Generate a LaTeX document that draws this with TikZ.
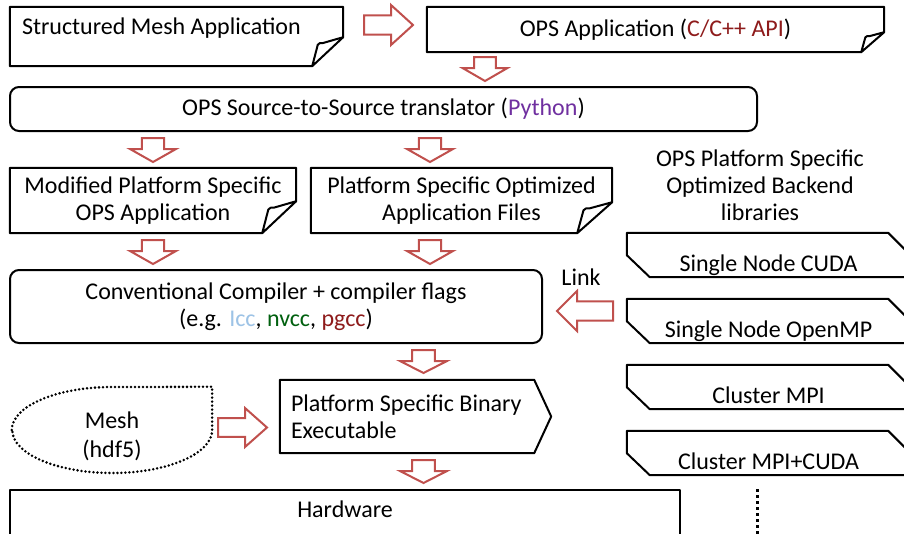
\documentclass[tikz,border=0pt]{standalone}
\usepackage{fontspec}
\setmainfont{Carlito}
\usepackage{tikz}
\usetikzlibrary{calc}
\definecolor{arrowred}{HTML}{C0504D}
\definecolor{apired}{HTML}{8E1B1B}
\definecolor{pypurple}{HTML}{7030A0}
\definecolor{iccblue}{HTML}{9DC3E6}
\definecolor{nvgreen}{HTML}{00600F}
\tikzset{
	% Box styles: frame drawn by a macro, rounded frame, library box
	frame node/.style={rectangle,inner sep=0,align=center},
	round node/.style={rectangle,draw,line width=2pt,rounded corners=9pt,inner sep=0,align=center},
	lib node/.style={rectangle,inner sep=0,minimum width=283pt,minimum height=44pt,text height=33pt,text depth=0pt},
	box line/.style={line width=2pt,line join=round},
	red arrow/.style={draw=arrowred,line width=2pt,line join=miter}
}

\begin{document}
\begin{tikzpicture}[x=1pt,y=-1pt,font=\fontsize{24}{27}\selectfont]
				\fill[white] (0,0) rectangle (904,533);
				\useasboundingbox (0,0) rectangle (904,533);
				\clip (0,0) rectangle (904,533);
				% macro for folded paper boxes: name, fold width, fold height
				\newcommand{\docshape}[3]{\draw[box line] let \p1=(#1.north west),\p2=(#1.south east) in (\x1,\y1) -- (\x2,\y1) -- (\x2,\y2+#3pt) -- (\x2-#2pt,\y2) -- (\x1,\y2) -- cycle (\x2-#2pt,\y2) -- (\x2-0.82*#2pt,\y2+0.74*#3pt) to[out=70,in=180] (\x2-0.65*#2pt,\y2+0.8*#3pt) -- (\x2,\y2+#3pt);}
				% macro for snipped library boxes
				\newcommand{\libshape}[1]{\draw[box line] let \p1=(#1.north west),\p2=(#1.south east) in (\x1,\y1) -- (\x2-22pt,\y1) -- (\x2,\y1-22pt) -- (\x2,\y2) -- (\x1+23pt,\y2) -- (\x1,\y2+22pt) -- cycle;}
				% macro for block arrows: centre, direction, length, head width, head length
				\newcommand{\blockarrow}[5]{\draw[red arrow,shift={(#1)},rotate=#2] ({-#3/2},{-0.24*#4}) -- ({#3/2-#5},{-0.24*#4}) -- ({#3/2-#5},{-#4/2}) -- ({#3/2},0) -- ({#3/2-#5},{#4/2}) -- ({#3/2-#5},{0.24*#4}) -- ({-#3/2},{0.24*#4}) -- cycle;}
				
				% first row
				\node[frame node,minimum width=333pt,minimum height=59pt,text width=309pt,align=flush left,text height=10pt,text depth=14pt](0-1) at (176.5,36.5){Structured Mesh Application};
				\node[frame node,minimum width=457pt,minimum height=45pt](0-2) at (655.5,29.5){OPS Application (\textcolor{apired}{C/C++ API})};
				\docshape{0-1}{31}{29}
				\docshape{0-2}{23}{20}
				
				% translator
				\node[round node,minimum width=747pt,minimum height=44pt](1) at (383.5,109){OPS Source-to-Source translator (\textcolor{pypurple}{Python})};
				
				% generated files
				\node[frame node,minimum width=286pt,minimum height=65pt](2-1) at (153,200.5){Modified Platform Specific\\OPS Application};
				\node[frame node,minimum width=301pt,minimum height=65pt](2-2) at (461.5,200.5){Platform Specific Optimized\\Application Files};
				\docshape{2-1}{34}{32}
				\docshape{2-2}{35}{31}
				
				% compiler
				\node[round node,minimum width=532pt,minimum height=73pt](3) at (276,306.5){Conventional Compiler + compiler flags\\(e.g. \textcolor{iccblue}{Icc}, \textcolor{nvgreen}{nvcc}, \textcolor{apired}{pgcc})};
				\node(link) at (581,277){Link};
				
				% backend libraries
				\node[align=center](lib) at (760,185){OPS Platform Specific\\Optimized Backend\\libraries};
				\node[lib node](L-1) at (768.5,255){Single Node CUDA};
				\node[lib node](L-2) at (768.5,321){Single Node OpenMP};
				\node[lib node](L-3) at (768.5,387){Cluster MPI};
				\node[lib node](L-4) at (768.5,453){Cluster MPI+CUDA};
				\foreach \i in {1,...,4}{\libshape{L-\i}}
				\coordinate(dots) at (757,489);
				\draw[line width=3pt,dash pattern=on 3pt off 3pt] (dots) -- ++(0,50);
				
				% binary and mesh
				\node[frame node,minimum width=271pt,minimum height=73pt,text width=249pt,align=flush left](4) at (415.5,416.5){Platform Specific Binary\\Executable};
				\draw[box line] let \p1=(4.north west),\p2=(4.south east),\p3=(4.east) in (\x1,\y1) -- (\x2-17pt,\y1) -- (\p3) -- (\x2-17pt,\y2) -- (\x1,\y2) -- cycle;
				\node[frame node,minimum width=200pt,minimum height=86pt](4-0) at (112,430){};
				\node[frame node,font=\fontsize{24}{29}\selectfont](mesh) at ([yshift=-6pt]4-0.center){Mesh\\(hdf5)};
				\draw[line width=2.8pt,line cap=round,dash pattern=on 0pt off 4pt] (4-0.west) arc[start angle=180,end angle=90,x radius=100pt,y radius=43pt] -- (4-0.north east) -- (4-0.east) arc[start angle=0,end angle=-90,x radius=100pt,y radius=43pt] arc[start angle=270,end angle=180,x radius=100pt,y radius=43pt];
				
				% hardware
				\node[frame node,minimum width=670pt,minimum height=38pt](5) at (345,509){Hardware};
				\draw[box line] (5.north west) rectangle ([yshift=-30pt]5.south east);
				
				% block arrows
				\blockarrow{388.5,25}{0}{49}{40}{22}
				\blockarrow{485,69}{-90}{24}{45}{13}
				\blockarrow{153,150}{-90}{24}{46}{13}
				\blockarrow{430,150}{-90}{24}{46}{13}
				\blockarrow{153,252}{-90}{24}{46}{13}
				\blockarrow{430,252}{-90}{24}{46}{13}
				\blockarrow{585,311}{180}{56}{40}{20}
				\blockarrow{423.5,361.5}{-90}{23}{47}{12}
				\blockarrow{242.5,427.5}{0}{49}{39}{22}
				\blockarrow{423.5,471.5}{-90}{23}{47}{12}
			\end{tikzpicture}
\end{document}
